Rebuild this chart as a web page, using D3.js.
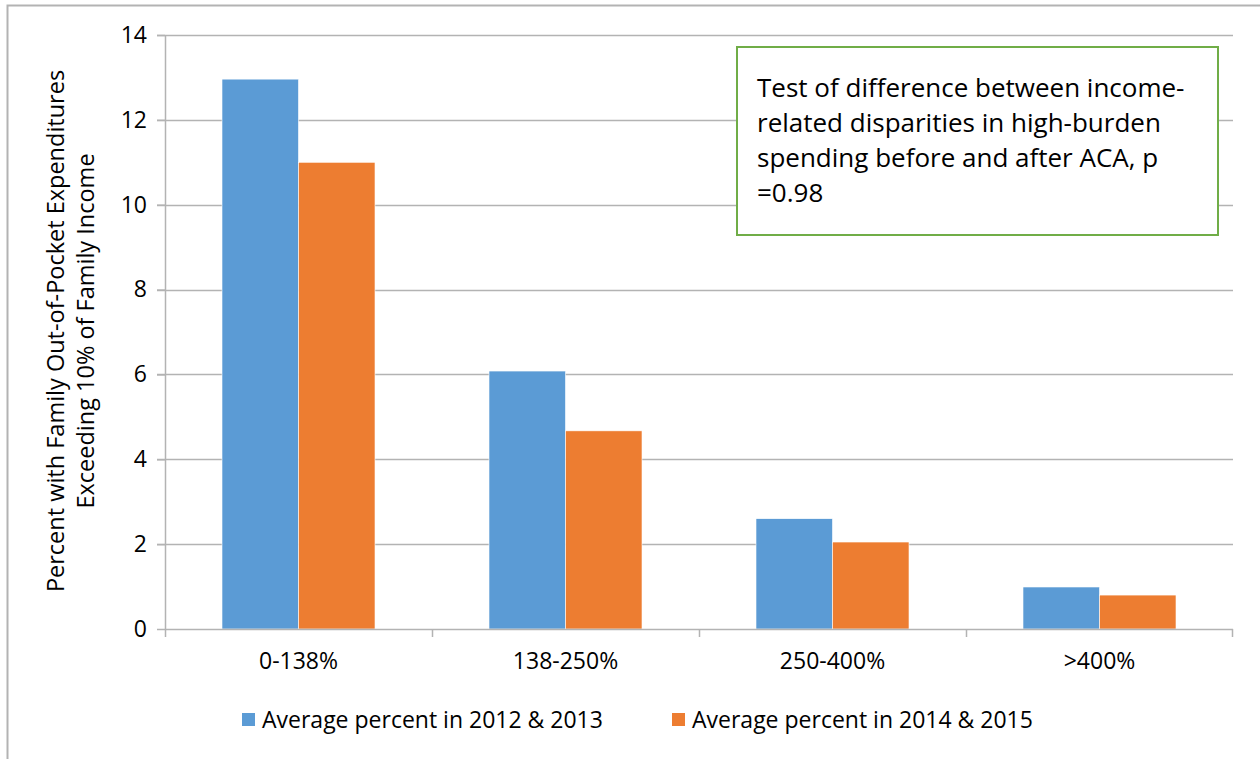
<!DOCTYPE html>
<html>
<head>
<meta charset="utf-8">
<script src="https://cdn.jsdelivr.net/npm/d3@7"></script>
<style>
  body { margin: 0; background: #fff; }
  svg { display: block; }
  svg text { font-family: "Open Sans", sans-serif; }
</style>
</head>
<body>
<div id="chart"></div>
<script>
// chart data
var categories = ["0-138%", "138-250%", "250-400%", ">400%"];
var seriesNames = ["Average percent in 2012 & 2013", "Average percent in 2014 & 2015"];
var values2012_2013 = [12.96, 6.08, 2.6, 0.99];
var values2014_2015 = [11.0, 4.67, 2.05, 0.8];
var yTicks = [0, 2, 4, 6, 8, 10, 12, 14];
var noteLines = [
    "Test of difference between income-",
    "related disparities in high-burden",
    "spending before and after ACA, p",
    "=0.98"
];

var colors = ["#5b9bd5", "#ed7d31"];
var W = 1260, H = 759;
var margin = { top: 35, right: 27, bottom: 130, left: 165 };
var width = W - margin.left - margin.right,
    height = H - margin.top - margin.bottom;

var svg = d3.select("#chart").append("svg")
    .attr("width", W)
    .attr("height", H);

// outer frame (only top and left visible)
svg.append("path")
    .attr("d", "M7.5," + H + "V5.5H" + W)
    .attr("fill", "none")
    .attr("stroke", "#b3b3b3")
    .attr("stroke-width", 2);

var g = svg.append("g")
    .attr("transform", "translate(" + margin.left + "," + margin.top + ")");

var x = d3.scaleBand().domain(categories).range([0, width]).padding(0);
var xs = d3.scaleBand().domain([0, 1]).range([0, x.bandwidth()]).paddingInner(0).paddingOuter(0.745);
var y = d3.scaleLinear().domain([0, 14]).range([height, 0]);

// gridlines
g.selectAll(".grid")
    .data(yTicks.filter(function (d) { return d > 0; }))
    .enter().append("line")
    .attr("x1", -8).attr("x2", width)
    .attr("y1", function (d) { return Math.round(y(d)) + 0.5; })
    .attr("y2", function (d) { return Math.round(y(d)) + 0.5; })
    .attr("stroke", "#b3b3b3").attr("stroke-width", 1.5);

// bars
var rows = categories.map(function (c, i) {
    return { cat: c, vals: [values2012_2013[i], values2014_2015[i]] };
});
var grp = g.selectAll(".cat")
    .data(rows)
    .enter().append("g")
    .attr("transform", function (d) { return "translate(" + x(d.cat) + ",0)"; });

grp.selectAll("rect")
    .data(function (d) { return d.vals.map(function (v, k) { return { k: k, v: v }; }); })
    .enter().append("rect")
    .attr("x", function (d) { return xs(d.k); })
    .attr("width", xs.bandwidth())
    .attr("y", function (d) { return y(d.v); })
    .attr("height", function (d) { return height - y(d.v); })
    .attr("fill", function (d) { return colors[d.k]; })
    .attr("stroke", "#fff").attr("stroke-width", 0.6);

// y axis
var yAxis = g.append("g")
    .call(d3.axisLeft(y).tickValues(yTicks).tickSize(8).tickPadding(10));
yAxis.select(".domain").attr("stroke", "#b3b3b3").attr("stroke-width", 1.5).attr("d", "M0.5," + height + "V0");
yAxis.selectAll(".tick line").attr("stroke", "#b3b3b3").attr("stroke-width", 1.5);
yAxis.selectAll("text").style("font-size", "23px").attr("fill", "#000");

// x axis
var xAxis = g.append("g")
    .attr("transform", "translate(0," + height + ")")
    .call(d3.axisBottom(x).tickSize(0).tickPadding(24));
xAxis.select(".domain").attr("stroke", "#b3b3b3").attr("stroke-width", 1.5).attr("d", "M0," + 0.5 + "H" + width);
xAxis.selectAll("text").style("font-size", "23px").attr("fill", "#000");
g.append("g").selectAll("line")
    .data(categories.concat(["end"]))
    .enter().append("line")
    .attr("x1", function (d, i) { return i < categories.length ? x(d) + 0.5 : width - 0.5; })
    .attr("x2", function (d, i) { return i < categories.length ? x(d) + 0.5 : width - 0.5; })
    .attr("y1", height).attr("y2", height + 8)
    .attr("stroke", "#b3b3b3").attr("stroke-width", 1.5);

// y axis title
var yt = svg.append("text")
    .attr("transform", "translate(64," + (margin.top + height / 2 - 1) + ")rotate(-90)")
    .attr("text-anchor", "middle")
    .style("font-size", "23.5px");
yt.append("tspan").attr("x", 0).attr("dy", 0).text("Percent with Family Out-of-Pocket Expenditures");
yt.append("tspan").attr("x", 0).attr("dy", 30).text("Exceeding 10%  of Family Income");

// note box
var box = svg.append("g").attr("transform", "translate(737,47)");
box.append("rect")
    .attr("width", 481).attr("height", 188)
    .attr("fill", "#fff").attr("stroke", "#70ad47").attr("stroke-width", 2);
box.selectAll("text")
    .data(noteLines)
    .enter().append("text")
    .attr("x", 20)
    .attr("y", function (d, i) { return 50 + i * 35; })
    .style("font-size", "26px")
    .text(function (d) { return d; });

// legend
var legX = [242, 672];
var leg = svg.selectAll(".leg")
    .data(seriesNames)
    .enter().append("g")
    .attr("transform", function (d, i) { return "translate(" + legX[i] + ",713)"; });
leg.append("rect").attr("width", 13).attr("height", 13).attr("fill", function (d, i) { return colors[i]; });
leg.append("text").attr("x", 20).attr("y", 15).style("font-size", "23px").text(function (d) { return d; });
</script>
</body>
</html>
